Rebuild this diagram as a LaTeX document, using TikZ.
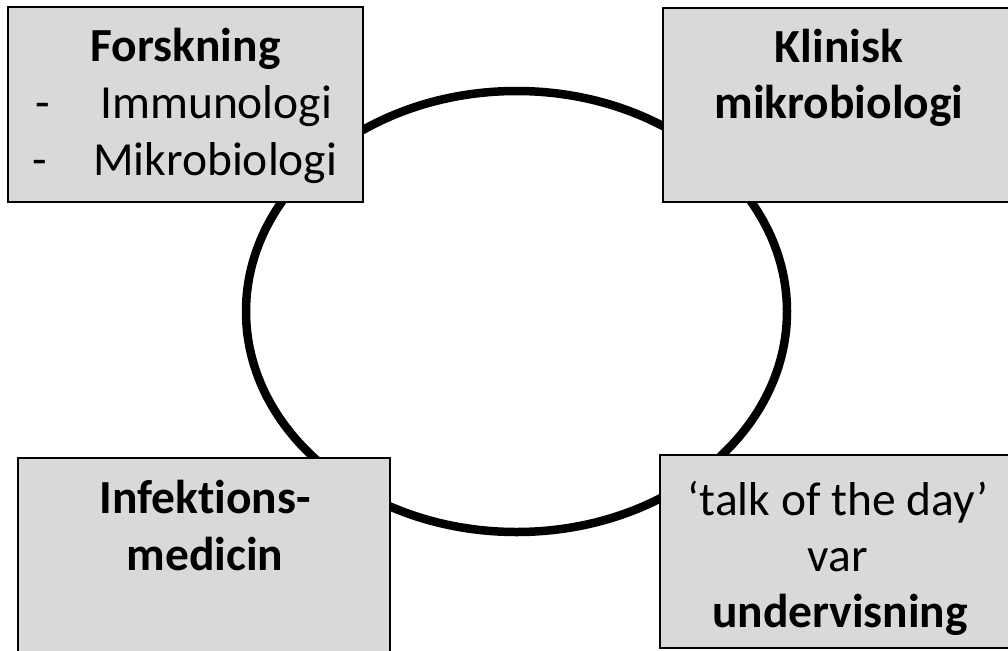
\documentclass[tikz,border=0pt]{standalone}
\usepackage{fontspec}
\setmainfont{Carlito}[Ligatures=NoCommon]
\usetikzlibrary{shapes.geometric}
\begin{document}
\begin{tikzpicture}[x=1pt,y=-1pt,
  box/.style={draw=black,line width=2pt,fill=boxgray,rectangle,inner sep=0pt},
  txt/.style={inner sep=0pt,anchor=base,font=\fontsize{47.5}{56}\selectfont},
  btxt/.style={txt,font=\fontsize{47.5}{56}\selectfont\bfseries},
  ring/.style={draw=black,line width=8.5pt,ellipse,inner sep=0pt}]
\definecolor{boxgray}{HTML}{D9D9D9}
\useasboundingbox (0,0) rectangle (1008,650);
\begin{scope}
\clip (0,0) rectangle (1008,650);
\node[ring,minimum width=541pt,minimum height=441pt] (ring) at (516.5,311.5) {};
\node[box,minimum width=355pt,minimum height=195pt] (tl) at (185.5,104.5) {};
\node[box,minimum width=352pt,minimum height=194pt] (tr) at (839,105) {};
\node[box,minimum width=372pt,minimum height=202pt] (bl) at (204,559) {};
\node[box,minimum width=360pt,minimum height=193pt] (br) at (840,551.5) {};
\end{scope}
% top left
\node[btxt] (tl1) at (185.5,62) {Forskning};
\node[txt] (tld1) at (43,118) {-};
\node[txt,anchor=base west] (tl2) at (100,118) {Immunologi};
\node[txt] (tld2) at (40,175) {-};
\node[txt,anchor=base west] (tl3) at (93,175) {Mikrobiologi};
% top right
\node[btxt] (tr1) at (839,63) {Klinisk};
\node[btxt] (tr2) at (839,118) {mikrobiologi};
% bottom left
\node[btxt] (bl1) at (205,513) {Infektions-};
\node[btxt] (bl2) at (205,570) {medicin};
% bottom right
\node[txt] (br1) at (838,515) {‘talk of the day’};
\node[txt] (br2) at (838,571) {var};
\node[btxt] (br3) at (840,627) {undervisning};
\end{tikzpicture}
\end{document}
